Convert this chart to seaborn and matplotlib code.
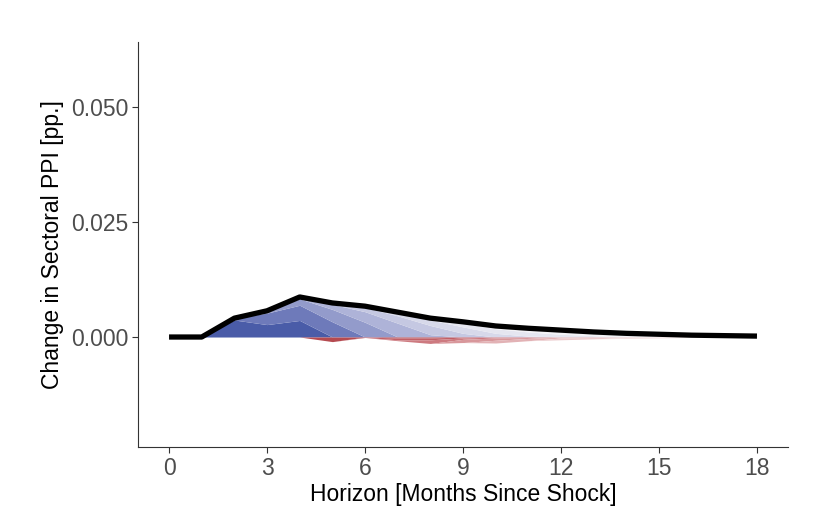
"""
Decomposition of the sectoral PPI response by propagation round.
"""
import numpy as np
import pandas as pd
import matplotlib
matplotlib.use("Agg")
import matplotlib.pyplot as plt
import seaborn as sns

# horizon in months since the shock
horizon = list(range(19))

# total response (black line)
total = [0, 0, 0.0041, 0.0057, 0.0087, 0.0074, 0.0067, 0.0054, 0.0041, 0.0033,
         0.0024, 0.0019, 0.0015, 0.0011, 0.0008, 0.0006, 0.0004, 0.0003, 0.0002]

# contributions of each round (rounds 1..8)
round_1 = [0, 0, 0.0037, 0.0027, 0.0036, -0.0010, 0, -0.0002, -0.0002, 0,
           0, 0, 0, 0, 0, 0, 0, 0, 0]
round_2 = [0, 0, 0.0004, 0.0025, 0.0033, 0.0033, -0.0001, -0.0004, -0.0004, -0.0002,
           0, 0, 0, 0, 0, 0, 0, 0, 0]
round_3 = [0, 0, 0, 0.0005, 0.0014, 0.0027, 0.0032, -0.0002, -0.0008, -0.0003,
           -0.0002, -0.0001, 0, 0, 0, 0, 0, 0, 0]
round_4 = [0, 0, 0, 0, 0.0004, 0.0011, 0.0023, 0.0030, 0.0005, -0.0007,
           -0.0005, -0.0002, 0, 0, 0, 0, 0, 0, 0]
round_5 = [0, 0, 0, 0, 0, 0.0003, 0.0009, 0.0016, 0.0020, 0.0008,
           -0.0006, -0.0005, -0.0002, -0.0001, 0, 0, 0, 0, 0]
round_6 = [0, 0, 0, 0, 0, 0, 0.0003, 0.0008, 0.0012, 0.0014,
           0.0008, 0.0002, -0.0004, -0.0003, -0.0001, 0, 0, 0, 0]
round_7 = [0, 0, 0, 0, 0, 0, 0, 0, 0.0004, 0.0008,
           0.0010, 0.0009, 0.0006, 0.0003, -0.0002, -0.0002, -0.0001, 0, 0]
round_8 = [0, 0, 0, 0, 0, 0, 0, 0, 0, 0.0003,
           0.0006, 0.0008, 0.0009, 0.0008, 0.0008, 0.0006, 0.0004, 0.0003, 0.0002]

rounds = [round_1, round_2, round_3, round_4, round_5, round_6, round_7, round_8]

blues = ["#4a5ca8", "#6e7aba", "#939bcb", "#aeb3d8",
         "#c5c8e2", "#d7d9ea", "#e5e6f0", "#f2f2f6"]
reds = ["#b54a50", "#c25f66", "#cd7a80", "#d8979b",
        "#e2b2b5", "#ebcacc", "#f2ddde", "#f8edee"]

sns.set_style("ticks")
plt.rcParams["font.family"] = ["Liberation Sans", "DejaVu Sans"]

fig, ax = plt.subplots(figsize=(8.3, 5.18), dpi=100)
fig.subplots_adjust(left=0.1663, right=0.9494, top=0.919, bottom=0.137)

vals = np.array(rounds)
pos = np.clip(vals, 0, None)
neg = np.clip(vals, None, 0)
ax.stackplot(horizon, pos, colors=blues, linewidth=0)
ax.stackplot(horizon, neg, colors=reds, linewidth=0)

df = pd.DataFrame({"horizon": horizon, "total": total})
sns.lineplot(data=df, x="horizon", y="total", color="black", linewidth=3.8,
             ax=ax, solid_capstyle="butt")

ax.set_xlim(-0.95, 18.95)
ax.set_ylim(-0.0239, 0.0641)
ax.set_xticks(range(0, 19, 3))
ax.set_yticks([0, 0.025, 0.05])
ax.set_yticklabels(["0.000", "0.025", "0.050"])
ax.tick_params(axis="both", labelsize=16.5, labelcolor="#4d4d4d", color="#333333",
               length=4, width=0.8, direction="out", pad=3)
for side in ["left", "bottom"]:
    ax.spines[side].set_color("#333333")
    ax.spines[side].set_linewidth(0.8)
sns.despine(ax=ax)

ax.set_xlabel("Horizon [Months Since Shock]", fontsize=16.5, color="black", labelpad=2)
ax.set_ylabel("Change in Sectoral PPI [pp.]", fontsize=16.5, color="black", labelpad=5)

fig.savefig("out.png", dpi=100)
